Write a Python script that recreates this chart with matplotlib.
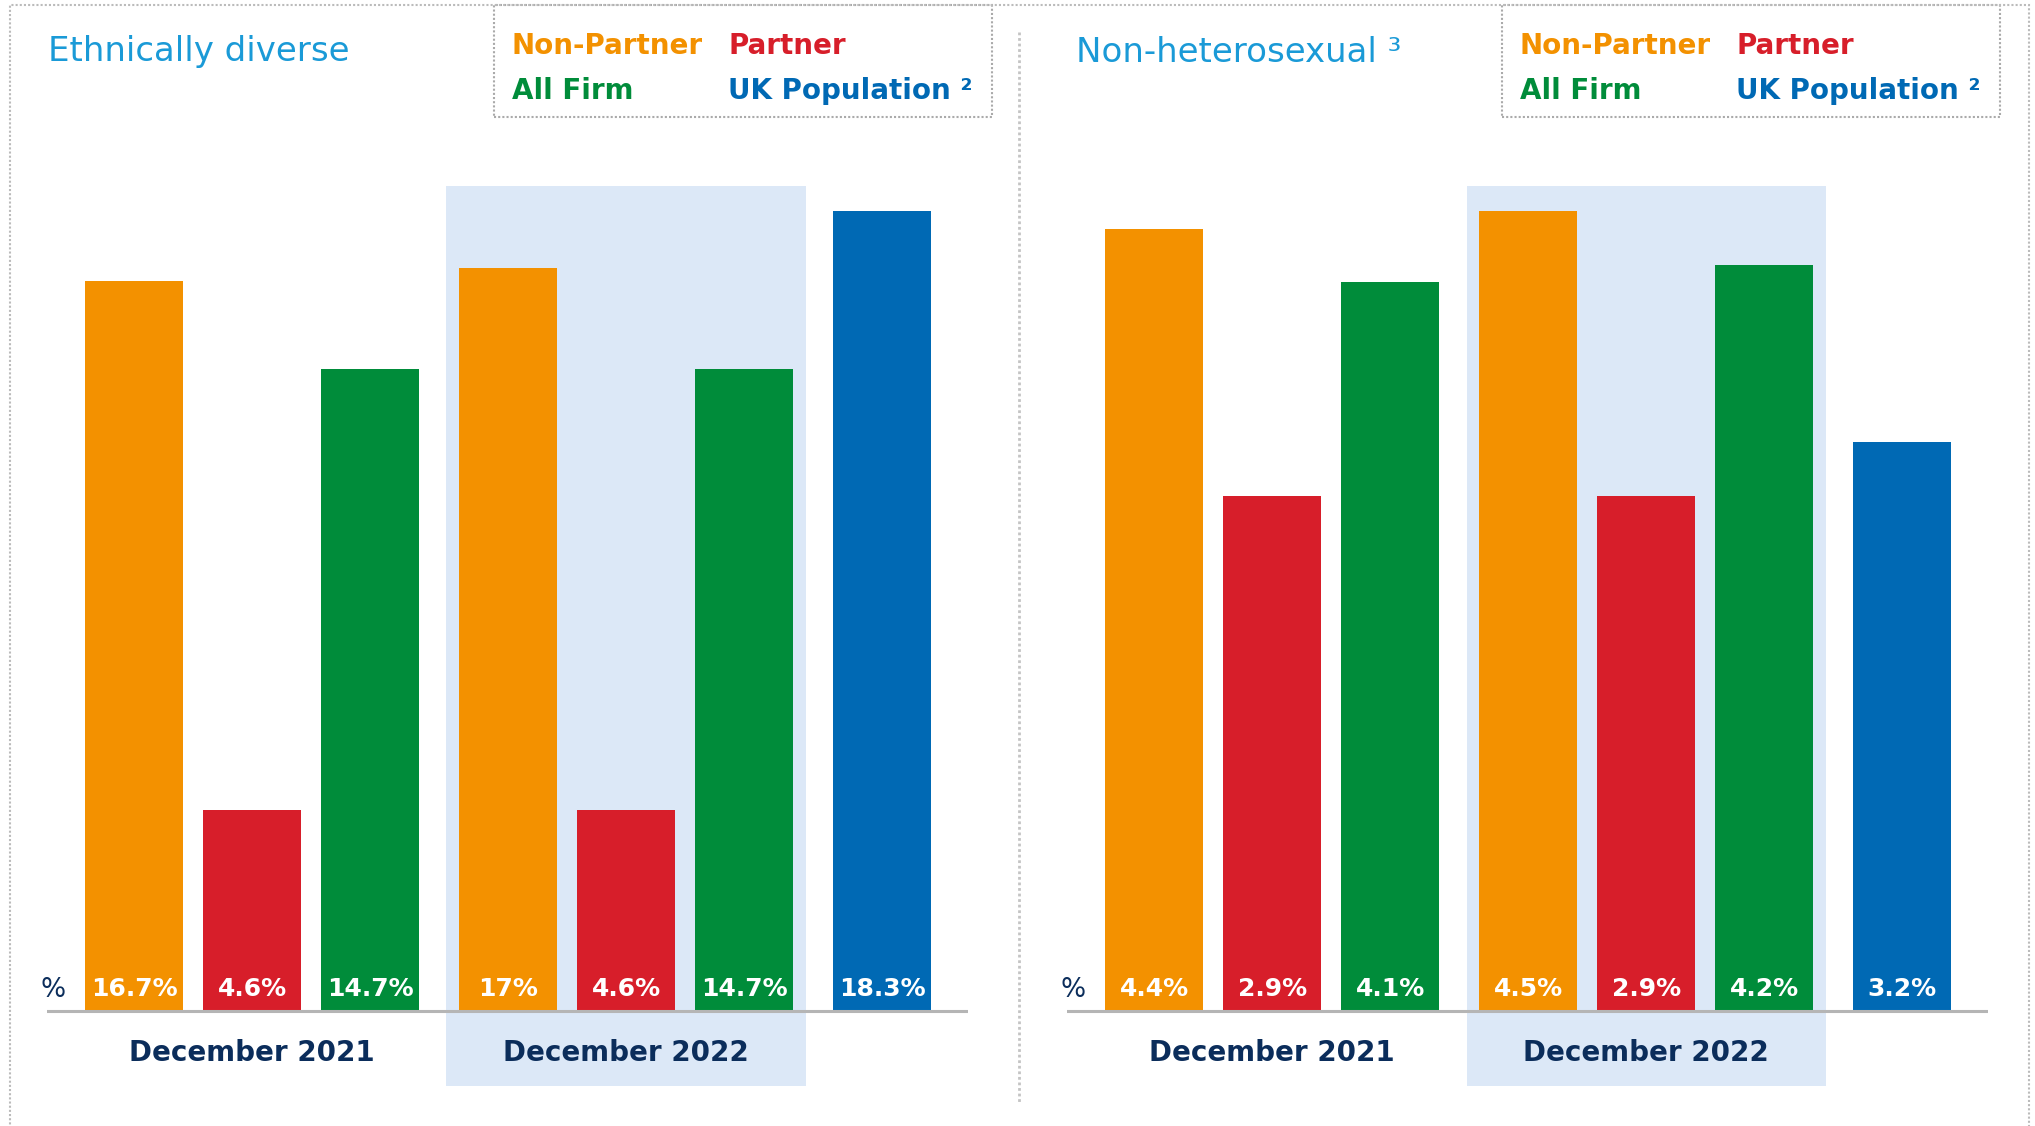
import matplotlib
matplotlib.use("Agg")
import matplotlib.pyplot as plt
from matplotlib.patches import Rectangle

W, H = 2035, 1126

# data
series = ["Non-Partner", "Partner", "All Firm"]
periods = ["December 2021", "December 2022"]
uk_label = "UK Population \u00b2"

ethnic_2021 = [16.7, 4.6, 14.7]
ethnic_2022 = [17.0, 4.6, 14.7]
ethnic_uk = 18.3

nonhet_2021 = [4.4, 2.9, 4.1]
nonhet_2022 = [4.5, 2.9, 4.2]
nonhet_uk = 3.2

titles = ["Ethnically diverse", "Non-heterosexual \u00b3"]

colors = ["#F39100", "#D71E2A", "#008C3A"]
uk_color = "#0069B4"
navy = "#0B2D5B"
title_blue = "#1A9AD7"
band = "#DCE8F7"
gray = "#B5B5B5"

plt.rcParams["font.family"] = ["DejaVu Sans"]


def fx(x):
    return x / W


def fy(y):
    return 1 - y / H


fig = plt.figure(figsize=(W / 100, H / 100), dpi=100)

gap = 0.17
bw = 0.835
panels = [
    (ethnic_2021, ethnic_2022, ethnic_uk),
    (nonhet_2021, nonhet_2022, nonhet_uk),
]
ax_left = [46.7, 1066.8]
ax_w = 921.5
ax_top, ax_bot = 185.6, 1086.3

for p, (v21, v22, vuk) in enumerate(panels):
    ax = fig.add_axes([fx(ax_left[p]), fy(ax_bot), ax_w / W, (ax_bot - ax_top) / H])
    m = max(v21 + v22 + [vuk])
    ax.set_ylim(-0.094 * m, 1.032 * m)
    ax.set_xlim(-0.74, 7.07)
    ax.axis("off")

    groups = [v21, v22]
    for g, vals in enumerate(groups):
        xs = [i + g * (3 + gap) for i in range(len(vals))]
        ax.bar(xs, vals, width=bw, color=colors, zorder=2)
        for x, v in zip(xs, vals):
            ax.annotate(f"{v:g}%", (x, 0), xytext=(0, 11), textcoords="offset points",
                        ha="center", va="baseline", color="white",
                        fontsize=18, fontweight="bold", zorder=3)
        ax.annotate(periods[g], (sum(xs) / len(xs), 0), xytext=(0, -36),
                    textcoords="offset points", ha="center", va="baseline",
                    color=navy, fontsize=20, fontweight="bold")
        if g == 1:
            ax.axvspan(xs[0] - 0.522, xs[-1] + 0.522, color=band, zorder=0, lw=0)

    xuk = 2 * (3 + gap)
    ax.bar([xuk], [vuk], width=bw, color=uk_color, zorder=2)
    ax.annotate(f"{vuk:g}%", (xuk, 0), xytext=(0, 11), textcoords="offset points",
                ha="center", va="baseline", color="white",
                fontsize=18, fontweight="bold", zorder=3)

    ax.axhline(0, color=gray, lw=2.2, zorder=4)
    ax.annotate("%", (-0.69, 0), xytext=(0, 10), textcoords="offset points",
                ha="center", va="baseline", color=navy, fontsize=19)

    # title and legend box
    off = 0 if p == 0 else 1028
    fig.text(fx(48 + off), fy(61.5), titles[p], color=title_blue, fontsize=24.5,
             ha="left", va="baseline")
    bx = 494 if p == 0 else 1502
    fig.patches.append(Rectangle((fx(bx), fy(117)), 498 / W, 112 / H,
                                 transform=fig.transFigure, fill=False,
                                 edgecolor="#AAAAAA", lw=1.5, linestyle=(0, (1, 1))))
    legend_items = series + [uk_label]
    legend_cols = colors + [uk_color]
    for k, (lab, col) in enumerate(zip(legend_items, legend_cols)):
        tx = bx + (18 if k % 2 == 0 else 234)
        ty = 54 if k < 2 else 99
        fig.text(fx(tx), fy(ty), lab, color=col, fontsize=20, fontweight="bold",
                 ha="left", va="baseline")

# outer frame and divider
fig.patches.append(Rectangle((fx(10), fy(1140)), 2019 / W, 1135 / H,
                             transform=fig.transFigure, fill=False,
                             edgecolor="#BBBBBB", lw=1.5, linestyle=(0, (1, 1))))
fig.lines.append(plt.Line2D([fx(1019), fx(1019)], [fy(32), fy(1103)],
                            transform=fig.transFigure, color="#C4C4C4",
                            lw=2, linestyle=(0, (1, 1))))

fig.savefig("out.png", dpi=100)
